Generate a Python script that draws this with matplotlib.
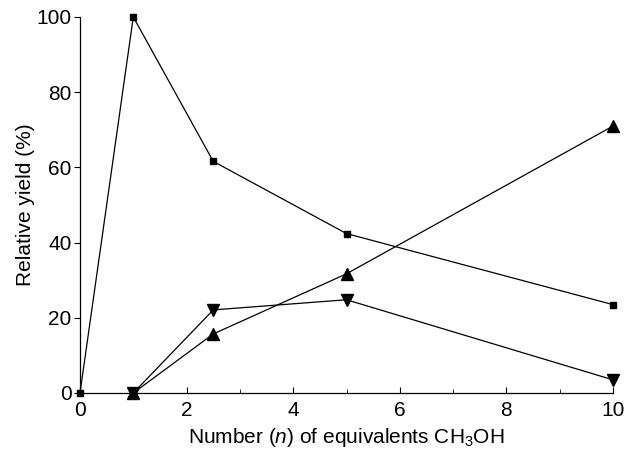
import numpy as np
import matplotlib.pyplot as plt
from matplotlib.ticker import MultipleLocator

plt.rcParams['font.family'] = ['Liberation Sans', 'DejaVu Sans']
plt.rcParams['mathtext.fontset'] = 'custom'
plt.rcParams['mathtext.rm'] = 'Liberation Sans'
plt.rcParams['mathtext.it'] = 'Liberation Sans:italic'

# Values
n_square = [0, 1, 2.5, 5, 10]
y_square = [0, 100, 61.6, 42.4, 23.5]

n_up = [1, 2.5, 5, 10]
y_up = [0, 15.7, 31.7, 71]

n_down = [1, 2.5, 5, 10]
y_down = [0, 22.1, 24.8, 3.5]

fig = plt.figure(figsize=(6.24, 4.51), dpi=100)
ax = fig.add_axes([80/624, 58/451, 533/624, 376/451])

ax.plot(n_square, y_square, color='black', linewidth=0.9, marker='s',
        markersize=5, clip_on=False, zorder=3)
ax.plot(n_up, y_up, color='black', linewidth=0.9, marker='^',
        markersize=8, clip_on=False, zorder=3)
ax.plot(n_down, y_down, color='black', linewidth=0.9, marker='v',
        markersize=8, clip_on=False, zorder=3)

ax.set_xlim(0, 10)
ax.set_ylim(0, 100)
ax.spines['top'].set_visible(False)
ax.spines['right'].set_visible(False)
ax.spines['left'].set_linewidth(0.9)
ax.spines['bottom'].set_linewidth(0.9)

ax.xaxis.set_major_locator(MultipleLocator(2))
ax.xaxis.set_minor_locator(MultipleLocator(1))
ax.yaxis.set_major_locator(MultipleLocator(20))
ax.tick_params(axis='x', which='both', direction='in', labelsize=15, pad=6)
ax.tick_params(axis='x', which='major', length=4)
ax.tick_params(axis='x', which='minor', length=3)
ax.tick_params(axis='y', direction='out', length=4, labelsize=15, pad=2)

ax.set_xlabel('Number ($n$) of equivalents CH$_3$OH', fontsize=15, labelpad=4)
ax.set_ylabel('Relative yield (%)', fontsize=15, labelpad=1)

fig.savefig('out.png', dpi=100)
plt.close(fig)
